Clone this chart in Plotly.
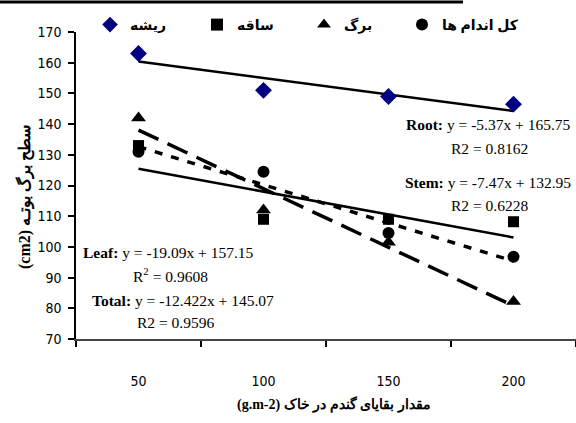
import plotly.graph_objects as go

# ---- data ----
x_vals = [50, 100, 150, 200]
x_labels = ["50", "100", "150", "200"]
root = [163, 151, 149, 146.5]
stem = [133, 109, 109, 108.2]
leaf = [142, 112, 101.5, 82.2]
total = [131, 124.5, 104.5, 96.8]

names = ["ریشه", "ساقه", "برگ", "کل اندام ها"]

# trendline coefficients as printed on the chart (x = 1..4 index)
root_fit = (-5.37, 165.75)
stem_fit = (-7.47, 132.95)
leaf_fit = (-19.09, 157.15)
total_fit = (-12.422, 145.07)

y_ticks = [70, 80, 90, 100, 110, 120, 130, 140, 150, 160, 170]

idx = [1, 2, 3, 4]


def trend(fit):
    return [fit[0] * i + fit[1] for i in idx]


fig = go.Figure()

num_font = "DejaVu Sans Condensed, Liberation Sans Narrow, Arial Narrow, sans-serif"
serif = "Liberation Serif, Times New Roman, serif"
ar_font = "Liberation Serif, DejaVu Sans, serif"

# trend lines
lines = [
    (root_fit, "solid", 2.5),
    (stem_fit, "solid", 2.5),
    (leaf_fit, "22px,10px", 3.5),
    (total_fit, "8px,9px", 3.5),
]
for fit, dash, w in lines:
    fig.add_trace(go.Scatter(
        x=x_vals, y=trend(fit), mode="lines",
        line=dict(color="black", width=w, dash=dash),
        showlegend=False, hoverinfo="skip"))

series = [
    (root, "diamond", "#000080", 13, "legend"),
    (stem, "square", "black", 11, "legend"),
    (leaf, "triangle-up", "black", 13, "legend"),
    (total, "circle", "black", 12, "legend2"),
]
for (vals, sym, col, size, lg), nm in zip(series, names):
    fig.add_trace(go.Scatter(
        x=x_vals, y=vals, mode="markers", name="<b>" + nm + "</b>",
        legend=lg,
        marker=dict(symbol=sym, color=col, size=size, line=dict(width=0))))

annots = [
    ("<b>Root:</b> y = -5.37x + 165.75", 488, 124),
    ("R2 = 0.8162", 489, 148),
    ("<b>Stem:</b> y = -7.47x + 132.95", 488, 182),
    ("R2 = 0.6228", 489, 205),
    ("<b>Leaf:</b> y = -19.09x + 157.15", 168, 252),
    ("R<sup>2</sup> = 0.9608", 170, 275),
    ("<b>Total:</b> y = -12.422x + 145.07", 183, 300),
    ("R2 = 0.9596", 175, 322),
]
L, R, T, B = 76, 0, 32, 84
W, H = 576 - L - R, 423 - T - B
for txt, px, py in annots:
    fig.add_annotation(
        text=txt, xref="paper", yref="paper",
        x=(px - L) / W, y=(423 - B - py) / H,
        xanchor="center", yanchor="middle", showarrow=False,
        font=dict(family=serif, size=15.5, color="black"))

# y axis title
fig.add_annotation(
    text="<b>(cm2) سطح برگ بوتـه</b>", xref="paper", yref="paper",
    x=(25 - L) / W, y=(423 - B - 197) / H, textangle=-90,
    xanchor="center", yanchor="middle", showarrow=False,
    font=dict(family=serif, size=16, color="black"))

# x axis title
fig.add_annotation(
    text="<b>(g.m-2) مقدار بقایای گندم در خاک</b>", xref="paper", yref="paper",
    x=(334 - L) / W, y=(423 - B - 404) / H,
    xanchor="center", yanchor="middle", showarrow=False,
    font=dict(family=serif, size=14, color="black"))

# top rule
fig.add_shape(type="line", xref="paper", yref="paper",
              x0=(0 - L) / W, x1=(463 - L) / W,
              y0=(423 - B - 2) / H, y1=(423 - B - 2) / H,
              line=dict(color="black", width=3))

legend_common = dict(orientation="h", yanchor="middle",
                     y=(423 - B - 25) / H, xanchor="left",
                     font=dict(family=ar_font, size=14, color="black"),
                     bgcolor="rgba(0,0,0,0)", itemsizing="constant",
                     tracegroupgap=0)

fig.update_layout(
    width=576, height=423,
    margin=dict(l=L, r=R, t=T, b=B, pad=0),
    paper_bgcolor="white", plot_bgcolor="white",
    showlegend=True,
    legend=dict(x=(90 - L) / W, entrywidth=62, entrywidthmode="pixels",
                **legend_common),
    legend2=dict(x=(402 - L) / W, **legend_common),
    xaxis=dict(range=[25, 225], tickvals=x_vals, ticktext=x_labels,
               ticks="", showgrid=False, zeroline=False,
               showline=True, linecolor="#444", linewidth=1.5,
               ticklabelstandoff=28,
               tickfont=dict(family=num_font, size=14, color="black"),
               minor=dict(tick0=25, dtick=50, ticks="outside",
                          ticklen=6, tickcolor="black", tickwidth=1.5,
                          showgrid=False)),
    yaxis=dict(range=[70, 170], tickvals=y_ticks, ticks="outside",
               ticklen=6, tickcolor="black", tickwidth=1.5,
               showgrid=False, zeroline=False, showline=True,
               linecolor="black", linewidth=1.5, ticklabelstandoff=4,
               tickfont=dict(family=num_font, size=14, color="black")),
)

fig.write_html("out.html")
